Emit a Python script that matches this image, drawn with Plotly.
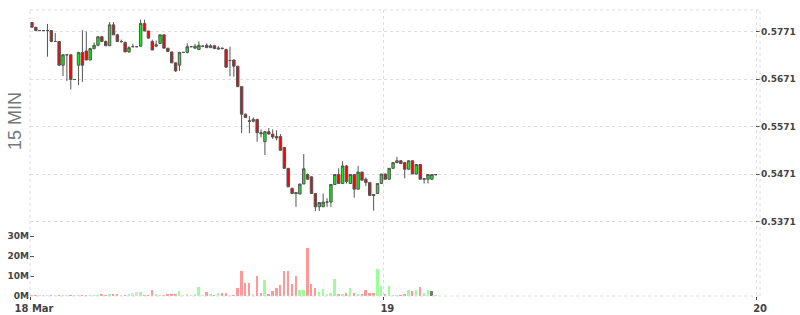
import pandas as pd
import plotly.graph_objects as go

# ---- data (15-minute candles, first candle 18 Mar 01:15) ----
first_candle = "2024-03-18 01:15"
open_ = [0.5790,0.5780,0.5773,0.5773,0.5773,0.5773,0.5750,0.5750,0.5700,0.5722,
         0.5722,0.5670,0.5700,0.5727,0.5730,0.5711,0.5735,0.5742,0.5760,0.5750,
         0.5741,0.5785,0.5764,0.5750,0.5748,0.5728,0.5739,0.5739,0.5740,0.5788,
         0.5772,0.5750,0.5740,0.5746,0.5764,0.5736,0.5728,0.5705,0.5700,0.5727,
         0.5727,0.5739,0.5736,0.5733,0.5740,0.5742,0.5737,0.5741,0.5734,0.5736,
         0.5733,0.5710,0.5711,0.5698,0.5655,0.5597,0.5583,0.5582,0.5586,0.5558,
         0.5539,0.5560,0.5555,0.5550,0.5550,0.5527,0.5483,0.5441,0.5432,0.5429,
         0.5450,0.5470,0.5465,0.5430,0.5402,0.5402,0.5412,0.5412,0.5449,0.5470,
         0.5451,0.5488,0.5451,0.5470,0.5439,0.5475,0.5460,0.5453,0.5428,0.5430,
         0.5451,0.5471,0.5460,0.5483,0.5495,0.5499,0.5495,0.5481,0.5499,0.5471,
         0.5491,0.5460,0.5460,0.5460,0.5469]
high = [0.5790,0.5780,0.5773,0.5773,0.5787,0.5773,0.5768,0.5750,0.5722,0.5722,
        0.5722,0.5670,0.5728,0.5774,0.5771,0.5736,0.5748,0.5761,0.5762,0.5752,
        0.5791,0.5791,0.5766,0.5754,0.5750,0.5740,0.5745,0.5739,0.5796,0.5796,
        0.5773,0.5754,0.5752,0.5764,0.5764,0.5736,0.5728,0.5705,0.5728,0.5727,
        0.5746,0.5739,0.5745,0.5750,0.5742,0.5746,0.5744,0.5743,0.5740,0.5737,
        0.5735,0.5739,0.5712,0.5698,0.5655,0.5598,0.5593,0.5590,0.5587,0.5565,
        0.5561,0.5568,0.5565,0.5563,0.5555,0.5527,0.5483,0.5442,0.5433,0.5450,
        0.5513,0.5472,0.5466,0.5430,0.5411,0.5430,0.5420,0.5449,0.5470,0.5483,
        0.5498,0.5490,0.5470,0.5471,0.5488,0.5476,0.5464,0.5454,0.5428,0.5451,
        0.5471,0.5472,0.5483,0.5495,0.5507,0.5500,0.5496,0.5500,0.5500,0.5491,
        0.5492,0.5462,0.5470,0.5470,0.5471]
low = [0.5780,0.5773,0.5773,0.5773,0.5718,0.5750,0.5750,0.5700,0.5677,0.5667,
       0.5649,0.5670,0.5658,0.5665,0.5711,0.5711,0.5733,0.5740,0.5750,0.5741,
       0.5741,0.5764,0.5750,0.5747,0.5728,0.5726,0.5739,0.5739,0.5740,0.5772,
       0.5757,0.5732,0.5738,0.5746,0.5736,0.5729,0.5705,0.5686,0.5688,0.5727,
       0.5725,0.5739,0.5735,0.5733,0.5738,0.5736,0.5737,0.5734,0.5733,0.5734,
       0.5694,0.5677,0.5676,0.5654,0.5557,0.5589,0.5557,0.5580,0.5539,0.5548,
       0.5511,0.5555,0.5545,0.5542,0.5521,0.5483,0.5444,0.5430,0.5402,0.5428,
       0.5450,0.5459,0.5430,0.5393,0.5393,0.5402,0.5402,0.5402,0.5449,0.5451,
       0.5451,0.5451,0.5450,0.5421,0.5439,0.5458,0.5446,0.5426,0.5394,0.5429,
       0.5450,0.5460,0.5459,0.5482,0.5494,0.5493,0.5462,0.5480,0.5471,0.5470,
       0.5460,0.5451,0.5451,0.5459,0.5469]
close = [0.5780,0.5773,0.5773,0.5773,0.5773,0.5750,0.5750,0.5700,0.5722,0.5722,
         0.5670,0.5670,0.5727,0.5700,0.5711,0.5735,0.5742,0.5760,0.5750,0.5741,
         0.5785,0.5764,0.5750,0.5750,0.5728,0.5737,0.5739,0.5739,0.5788,0.5772,
         0.5757,0.5732,0.5743,0.5764,0.5736,0.5729,0.5705,0.5688,0.5727,0.5727,
         0.5739,0.5739,0.5740,0.5742,0.5740,0.5737,0.5741,0.5735,0.5736,0.5735,
         0.5696,0.5710,0.5698,0.5655,0.5597,0.5590,0.5582,0.5586,0.5558,0.5556,
         0.5560,0.5555,0.5549,0.5547,0.5521,0.5483,0.5444,0.5430,0.5430,0.5450,
         0.5482,0.5460,0.5430,0.5402,0.5411,0.5412,0.5412,0.5449,0.5470,0.5451,
         0.5488,0.5455,0.5470,0.5439,0.5475,0.5458,0.5453,0.5426,0.5426,0.5451,
         0.5471,0.5460,0.5483,0.5495,0.5499,0.5493,0.5481,0.5499,0.5471,0.5491,
         0.5460,0.5461,0.5470,0.5470,0.5470]
volume_m = [0.2,0.3,0.1,0.1,0.2,0.2,0.1,0.5,0.2,0.1,
            0.3,0.1,0.3,0.33,0.33,0.33,0.33,0.33,0.83,0.33,
            0.83,0.83,0.83,0.33,0.33,0.83,1.33,1.83,1.83,0.33,
            0.33,2.83,0.83,0.33,0.33,0.83,0.83,0.83,2.33,0.2,
            0.83,0.2,0.83,4.33,0.2,1.83,0.83,0.33,1.33,1.33,
            1.33,0.2,0.33,3.83,12.3,6.33,6.33,0.83,9.83,1.33,
            7.83,0.83,2.33,3.83,5.33,12.3,12.3,5.83,9.83,2.83,
            2.83,23.8,5.83,3.83,1.83,3.33,0.83,1.33,8.33,0.83,
            0.83,1.33,3.83,1.33,0.83,0.83,2.83,1.33,1.33,13.3,
            4.83,0.83,4.83,0.33,0.33,0.33,0.83,2.83,2.33,2.83,
            4.33,1.33,2.83,2.33,0.33]
price_ticks = [0.5371, 0.5471, 0.5571, 0.5671, 0.5771]
volume_ticks_m = [0, 10, 20, 30]
x_tick_dates = ["2024-03-18 01:15", "2024-03-19 00:00", "2024-03-20 00:00"]
x_tick_text = ["18 Mar", "19", "20"]
x_range = ["2024-03-18 01:15", "2024-03-20 00:15"]
highlight_index = 103

# ---- build ----
step = pd.Timedelta(minutes=15)
times = pd.date_range(first_candle, periods=len(open_), freq="15min") + step / 2
volume = [v * 1e6 for v in volume_m]

UP, DOWN, EDGE = "#11ee11", "#ff0000", "#555555"
vol_colors = []
for i, (o, c) in enumerate(zip(open_, close)):
    if i == highlight_index:
        vol_colors.append("#777777")
    elif c > o:
        vol_colors.append("#99ff99")
    elif c < o:
        vol_colors.append("#ff9999")
    else:
        vol_colors.append("#dddddd")

fig = go.Figure()
fig.add_trace(go.Bar(
    x=times, y=volume, yaxis="y2", marker=dict(color=vol_colors, line=dict(width=0)),
    width=step.total_seconds() * 1000 * 0.5, showlegend=False, hoverinfo="skip"))
fig.add_trace(go.Candlestick(
    x=times, open=open_, high=high, low=low, close=close,
    increasing=dict(line=dict(color=EDGE, width=1), fillcolor=UP),
    decreasing=dict(line=dict(color=EDGE, width=1), fillcolor=DOWN),
    whiskerwidth=0, showlegend=False))

tickfont = dict(family="DejaVu Sans", size=9, color="#444444", weight="bold")
xtickfont = dict(family="DejaVu Sans", size=10, color="#444444", weight="bold")
grid = "#dddddd"
gdash = "3px,3px"
fig.update_layout(
    width=800, height=315, margin=dict(l=30, r=40, t=10, b=19, autoexpand=False),
    paper_bgcolor="white", plot_bgcolor="white", boxgap=0.1, bargap=0,
    xaxis=dict(type="date", range=x_range, tickvals=x_tick_dates, ticktext=x_tick_text,
               showgrid=True, gridcolor=grid, griddash=gdash, zeroline=False,
               ticks="outside", ticklen=3, tickcolor="#444444", tickfont=xtickfont,
               ticklabelshift=4,
               rangeslider=dict(visible=False), showline=False, automargin=False),
    yaxis=dict(side="right", range=[0.521423, 0.581626], tickvals=price_ticks,
               ticktext=[f"{v:.4f}" for v in price_ticks], showgrid=True, gridcolor=grid,
               griddash=gdash, zeroline=False, ticks="inside", ticklen=4,
               tickcolor="#555555", tickfont=tickfont, showline=False, automargin=False),
    yaxis2=dict(overlaying="y", side="left", range=[0, 143e6],
                tickvals=[v * 1e6 for v in volume_ticks_m],
                ticktext=[f"{v}M" for v in volume_ticks_m], showgrid=False, zeroline=False,
                ticks="inside", ticklen=4, tickcolor="#555555", tickfont=tickfont,
                showline=False, automargin=False),
    annotations=[dict(text="15 MIN", textangle=-90, xref="paper", yref="paper",
                      x=(15 - 30) / 730, y=(296 - 121) / 286, xanchor="center",
                      yanchor="middle", showarrow=False,
                      font=dict(family="Liberation Sans", size=18, color="#777777"))],
    shapes=[
        dict(type="line", xref="paper", yref="paper", x0=0, x1=1, y0=1, y1=1,
             line=dict(color=grid, width=1, dash=gdash)),
        dict(type="line", xref="paper", yref="paper", x0=0, x1=1, y0=0, y1=0,
             line=dict(color=grid, width=1, dash=gdash)),
        dict(type="line", xref="paper", yref="paper", x0=0, x1=0, y0=0, y1=1,
             line=dict(color=grid, width=1, dash=gdash)),
        dict(type="line", xref="paper", yref="paper", x0=1, x1=1, y0=0, y1=1,
             line=dict(color=grid, width=1, dash=gdash)),
    ],
)
fig.write_html("out.html")
